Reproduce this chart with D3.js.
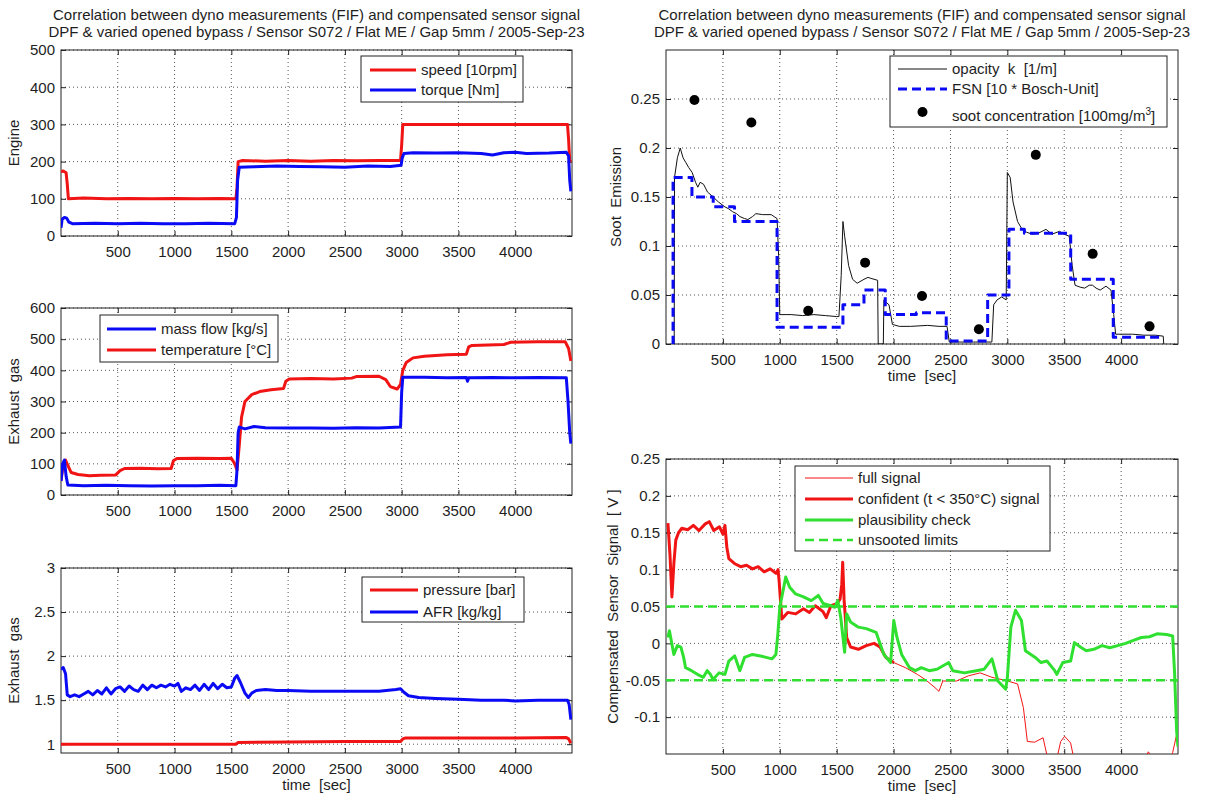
<!DOCTYPE html>
<html>
<head>
<meta charset="utf-8">
<style>
  body { margin: 0; background: #fff; }
  svg { font-family: "Liberation Sans", Arial, sans-serif; }
  text { fill: #1e1e1e; white-space: pre; }
</style>
</head>
<body>
<svg></svg>
<script src="https://d3js.org/d3.v7.min.js"></script>
<script>
// ---- data: [time sec, value] ----
const timeTicks = [500, 1000, 1500, 2000, 2500, 3000, 3500, 4000];

const speedData = [[0,172],[20,175],[45,170],[55,140],[65,100],[200,102],[400,100],[600,101],[800,100],[1000,101],[1200,100],[1400,101],[1540,100],[1550,130],[1560,200],[1600,203],[1800,201],[2000,203],[2200,201],[2400,203],[2600,202],[2800,203],[2990,203],[3000,245],[3010,300],[3200,300],[3400,300],[3600,300],[3800,300],[4000,300],[4200,300],[4460,300],[4470,260],[4480,200],[4490,205]];
const torqueData = [[0,22],[10,45],[30,50],[50,48],[70,37],[100,33],[300,34],[500,33],[700,34],[900,33],[1100,33],[1300,34],[1530,33],[1545,50],[1555,150],[1570,185],[1700,186],[1900,188],[2100,187],[2300,186],[2500,185],[2700,188],[2900,187],[2995,190],[3005,210],[3020,222],[3100,224],[3300,223],[3500,224],[3700,222],[3800,218],[3900,224],[4000,225],[4100,222],[4300,223],[4450,225],[4470,215],[4480,150],[4490,120]];

const massFlowData = [[0,45],[15,100],[30,112],[45,60],[60,32],[200,30],[400,31],[600,30],[800,29],[1000,30],[1200,30],[1400,31],[1540,30],[1550,80],[1560,200],[1570,218],[1620,212],[1700,220],[1800,216],[2000,215],[2200,215],[2400,214],[2600,216],[2800,215],[2990,218],[3000,330],[3010,378],[3200,378],[3400,376],[3570,377],[3580,365],[3590,376],[3800,377],[4000,376],[4200,377],[4450,376],[4465,300],[4480,200],[4490,165]];
const temperatureData = [[0,45],[20,100],[40,112],[60,95],[90,72],[150,66],[250,62],[350,63],[480,64],[520,78],[560,85],[700,86],[850,84],[970,85],[990,110],[1020,117],[1200,118],[1400,117],[1500,118],[1530,100],[1550,80],[1570,160],[1590,250],[1620,300],[1680,322],[1750,332],[1850,338],[1960,342],[1980,365],[2010,372],[2200,374],[2400,372],[2560,375],[2600,380],[2800,381],[2860,370],[2900,348],[2960,340],[2990,355],[3010,400],[3040,425],[3100,440],[3200,445],[3400,450],[3570,452],[3590,475],[3620,480],[3900,483],[3960,490],[4200,492],[4440,492],[4470,470],[4490,430]];

const pressureData = [[0,1.0],[500,1.0],[1000,1.0],[1540,1.0],[1560,1.02],[2000,1.025],[2500,1.03],[2990,1.03],[3010,1.06],[3030,1.07],[3500,1.07],[4000,1.07],[4450,1.075],[4470,1.06],[4490,1.01]];
const afrData = [[0,1.85],[20,1.87],[40,1.8],[55,1.56],[80,1.54],[120,1.56],[160,1.54],[200,1.57],[240,1.6],[280,1.56],[320,1.61],[360,1.57],[400,1.64],[440,1.57],[480,1.63],[520,1.65],[560,1.6],[600,1.66],[640,1.62],[680,1.6],[720,1.67],[760,1.62],[800,1.67],[840,1.64],[880,1.67],[920,1.65],[960,1.68],[1000,1.66],[1030,1.69],[1060,1.6],[1100,1.64],[1140,1.62],[1180,1.67],[1220,1.61],[1260,1.68],[1300,1.62],[1340,1.69],[1380,1.63],[1420,1.68],[1460,1.64],[1500,1.65],[1530,1.75],[1550,1.78],[1580,1.7],[1620,1.58],[1650,1.53],[1680,1.58],[1720,1.61],[1800,1.62],[1900,1.61],[2000,1.61],[2200,1.6],[2400,1.6],[2600,1.6],[2800,1.6],[2950,1.62],[2990,1.63],[3020,1.59],[3060,1.55],[3150,1.53],[3300,1.52],[3500,1.51],[3700,1.5],[3900,1.5],[4000,1.49],[4200,1.5],[4460,1.5],[4475,1.45],[4490,1.28]];

const opacityData = [[72,0],[75,0.17],[100,0.19],[125,0.2],[150,0.19],[175,0.185],[200,0.18],[230,0.175],[260,0.165],[280,0.16],[300,0.165],[330,0.163],[365,0.155],[415,0.15],[460,0.145],[517,0.14],[550,0.138],[585,0.135],[620,0.133],[650,0.13],[690,0.128],[720,0.127],[760,0.13],[790,0.133],[850,0.132],[925,0.132],[950,0.13],[976,0.128],[990,0.09],[1000,0.03],[1100,0.03],[1200,0.029],[1300,0.03],[1400,0.029],[1500,0.028],[1520,0.028],[1540,0.07],[1555,0.125],[1570,0.11],[1605,0.08],[1640,0.066],[1680,0.062],[1740,0.066],[1775,0.068],[1800,0.067],[1860,0.065],[1865,0.0],[1910,0.0],[1915,0.045],[1940,0.042],[1960,0.04],[1990,0.02],[2050,0.018],[2150,0.018],[2300,0.019],[2400,0.018],[2470,0.018],[2490,0.002],[2700,0.002],[2864,0.002],[2880,0.04],[2910,0.045],[2950,0.048],[2990,0.045],[3000,0.175],[3025,0.17],[3050,0.145],[3090,0.125],[3130,0.117],[3170,0.114],[3220,0.112],[3272,0.113],[3340,0.117],[3391,0.112],[3459,0.115],[3500,0.112],[3544,0.11],[3570,0.08],[3595,0.06],[3640,0.058],[3680,0.057],[3720,0.06],[3748,0.06],[3780,0.057],[3816,0.055],[3867,0.059],[3911,0.055],[3935,0.03],[3952,0.01],[4100,0.01],[4200,0.009],[4300,0.009],[4370,0.008],[4375,0.0]];
// FSN is a step signal: each value holds until the next time
const fsnData = [[55,0],[62,0.17],[228,0.15],[415,0.14],[602,0.125],[976,0.017],[1555,0.04],[1740,0.055],[1927,0.03],[2200,0.032],[2463,0.003],[2827,0.05],[3014,0.117],[3150,0.113],[3557,0.066],[3931,0.007],[4356,0.007]];
const sootTimes = [250, 750, 1250, 1750, 2250, 2750, 3250, 3750, 4250];
const sootValues = [0.249, 0.226, 0.034, 0.083, 0.049, 0.015, 0.193, 0.092, 0.018];

const confidentData = [[17,0.163],[35,0.12],[52,0.063],[70,0.11],[86,0.14],[110,0.15],[138,0.156],[190,0.154],[241,0.16],[290,0.153],[345,0.162],[380,0.165],[420,0.153],[470,0.158],[500,0.148],[518,0.16],[535,0.13],[552,0.115],[604,0.108],[656,0.104],[708,0.106],[760,0.101],[810,0.104],[863,0.097],[915,0.101],[967,0.095],[985,0.1],[994,0.085],[1018,0.033],[1070,0.042],[1140,0.04],[1208,0.047],[1260,0.042],[1312,0.051],[1380,0.043],[1408,0.035],[1450,0.051],[1502,0.054],[1530,0.06],[1545,0.08],[1553,0.11],[1565,0.06],[1588,0.008],[1622,-0.005],[1691,-0.008],[1760,-0.003],[1829,0.0],[1881,-0.005],[1933,-0.019],[2002,-0.026]];
const signalTailData = [[2105,-0.033],[2209,-0.042],[2278,-0.049],[2364,-0.06],[2399,-0.065],[2433,-0.051],[2554,-0.051],[2658,-0.044],[2761,-0.04],[2865,-0.046],[3003,-0.051],[3090,-0.055],[3141,-0.087],[3176,-0.133],[3240,-0.134],[3314,-0.128],[3349,-0.152],[3390,-0.17],[3430,-0.16],[3469,-0.133],[3504,-0.126],[3556,-0.135],[3590,-0.16],[3700,-0.2],[4100,-0.2],[4200,-0.16],[4239,-0.147],[4260,-0.152],[4300,-0.17],[4440,-0.16],[4453,-0.148],[4488,-0.124]];
const fullSignalData = confidentData.concat(signalTailData);
const plausibilityData = [[17,0.008],[30,0.017],[69,-0.015],[100,-0.003],[131,-0.005],[155,-0.019],[172,-0.033],[224,-0.037],[276,-0.042],[328,-0.046],[362,-0.037],[390,-0.042],[414,-0.049],[466,-0.04],[518,-0.042],[552,-0.024],[604,-0.017],[649,-0.037],[690,-0.019],[760,-0.015],[830,-0.017],[880,-0.019],[932,-0.021],[966,-0.015],[983,0.013],[1000,0.049],[1035,0.076],[1052,0.09],[1087,0.076],[1139,0.067],[1208,0.063],[1277,0.058],[1339,0.065],[1381,0.054],[1450,0.051],[1484,0.049],[1510,0.058],[1536,0.035],[1570,-0.012],[1588,0.04],[1622,0.029],[1691,0.022],[1760,0.02],[1846,0.015],[1915,-0.015],[1974,-0.026],[2002,0.031],[2030,0.008],[2071,-0.015],[2140,-0.033],[2192,-0.037],[2244,-0.033],[2313,-0.037],[2382,-0.035],[2485,-0.026],[2520,-0.037],[2623,-0.04],[2727,-0.037],[2796,-0.035],[2865,-0.021],[2917,-0.051],[2986,-0.062],[3000,-0.047],[3031,0.022],[3072,0.045],[3124,0.031],[3159,-0.01],[3245,-0.019],[3296,-0.026],[3348,-0.024],[3417,-0.037],[3435,-0.042],[3487,-0.026],[3556,-0.024],[3590,0.001],[3642,-0.005],[3694,-0.01],[3760,-0.008],[3832,-0.003],[3900,-0.006],[3970,-0.003],[4040,0.0],[4108,0.004],[4177,0.008],[4250,0.009],[4315,0.013],[4400,0.012],[4453,0.01],[4470,-0.04],[4488,-0.119],[4500,-0.14]];
const unsootedLimits = [0.05, -0.05];

const titleLines = ["Correlation between dyno measurements (FIF) and compensated sensor signal",
                    "DPF & varied opened bypass / Sensor S072 / Flat ME / Gap 5mm / 2005-Sep-23"];

const RED = "#f01414", BLUE = "#0a0af5", GREEN = "#30e030";

const svg = d3.select("svg").attr("width", 1207).attr("height", 799);

let clipId = 0;
function panel(box, yDomain, yTicks, yLabel, xLabel) {
    const g = svg.append("g").attr("transform", `translate(${box.x},${box.y})`);
    const x = d3.scaleLinear().domain([0, 4500]).range([0, box.w]);
    const y = d3.scaleLinear().domain(yDomain).range([box.h, 0]);

    // dotted grid
    g.append("g").selectAll("line").data(timeTicks).join("line")
        .attr("x1", d => x(d)).attr("x2", d => x(d)).attr("y1", 0).attr("y2", box.h);
    g.append("g").selectAll("line").data(yTicks).join("line")
        .attr("x1", 0).attr("x2", box.w).attr("y1", d => y(d)).attr("y2", d => y(d));
    g.selectAll("line").attr("stroke", "#555").attr("stroke-width", 1).attr("stroke-dasharray", "1,3");

    // inward ticks on all four sides
    g.append("g").attr("transform", `translate(0,${box.h})`)
        .call(d3.axisBottom(x).tickValues(timeTicks).tickSize(-5).tickPadding(10).tickFormat(d => String(d)));
    g.append("g").call(d3.axisLeft(y).tickValues(yTicks).tickSize(-5).tickPadding(6).tickFormat(d => String(d)));
    g.append("g").call(d3.axisTop(x).tickValues(timeTicks).tickSize(-5).tickFormat(""));
    g.append("g").attr("transform", `translate(${box.w},0)`)
        .call(d3.axisRight(y).tickValues(yTicks).tickSize(-5).tickFormat(""));
    g.selectAll(".domain").remove();
    g.selectAll(".tick line").attr("stroke", "#222");
    g.selectAll(".tick text").attr("font-size", 15).attr("fill", "#1e1e1e").attr("font-family", null);

    g.append("rect").attr("width", box.w).attr("height", box.h)
        .attr("fill", "none").attr("stroke", "#222").attr("stroke-width", 1);

    g.append("text").attr("transform", `translate(${box.labelX},${box.h / 2}) rotate(-90)`)
        .attr("text-anchor", "middle").attr("font-size", 15).text(yLabel);
    if (xLabel) {
        g.append("text").attr("x", box.w / 2).attr("y", box.h + 37)
            .attr("text-anchor", "middle").attr("font-size", 15).text(xLabel);
    }

    const id = "clip" + (clipId++);
    g.append("clipPath").attr("id", id).append("rect").attr("width", box.w).attr("height", box.h);
    const plot = g.append("g").attr("clip-path", `url(#${id})`);
    return { g, plot, x, y };
}

function drawLine(p, data, color, width, dash, curve) {
    const line = d3.line().x(d => p.x(d[0])).y(d => p.y(d[1])).curve(curve || d3.curveLinear);
    p.plot.append("path").datum(data).attr("d", line)
        .attr("fill", "none").attr("stroke", color).attr("stroke-width", width)
        .attr("stroke-linejoin", "round").attr("stroke-dasharray", dash || null);
}

function legend(box, items) {
    const g = svg.append("g");
    g.append("rect").attr("x", box.x).attr("y", box.y).attr("width", box.w).attr("height", box.h)
        .attr("fill", "#fff").attr("stroke", "#222").attr("stroke-width", 1);
    items.forEach((it, i) => {
        const cy = box.rows[i];
        if (it.marker) {
            g.append("circle").attr("cx", (box.lx0 + box.lx1) / 2).attr("cy", cy).attr("r", 5).attr("fill", "#000");
        } else {
            g.append("line").attr("x1", box.lx0).attr("x2", box.lx1).attr("y1", cy).attr("y2", cy)
                .attr("stroke", it.color).attr("stroke-width", it.width).attr("stroke-dasharray", it.dash || null);
        }
        const t = g.append("text").attr("x", box.tx).attr("y", it.marker ? cy + 4 : cy).attr("dy", "0.35em")
            .attr("font-size", 15);
        if (it.sup) {
            t.append("tspan").text(it.label);
            t.append("tspan").attr("font-size", 10).attr("dy", "-0.6em").text(it.sup);
            t.append("tspan").attr("dy", "0.45em").text("]");
        } else {
            t.text(it.label);
        }
    });
}

function title(cx) {
    titleLines.forEach((s, i) => {
        svg.append("text").attr("x", cx).attr("y", 20 + i * 17).attr("text-anchor", "middle")
            .attr("font-size", 15).text(s);
    });
}

// ---- left column ----
title(316.5);
const p1 = panel({ x: 61, y: 50, w: 511, h: 186, labelX: -42 }, [0, 500], [0, 100, 200, 300, 400, 500], "Engine");
drawLine(p1, speedData, RED, 3);
drawLine(p1, torqueData, BLUE, 3);
legend({ x: 361, y: 56, w: 162, h: 46, rows: [70, 90], lx0: 370, lx1: 416, tx: 421 }, [
    { label: "speed [10rpm]", color: RED, width: 3 },
    { label: "torque [Nm]", color: BLUE, width: 3 }]);

const p2 = panel({ x: 61, y: 308, w: 511, h: 187, labelX: -42 }, [0, 600], [0, 100, 200, 300, 400, 500, 600], "Exhaust  gas");
drawLine(p2, temperatureData, RED, 3);
drawLine(p2, massFlowData, BLUE, 3);
legend({ x: 100, y: 315, w: 178, h: 47, rows: [329, 350], lx0: 107, lx1: 156, tx: 161 }, [
    { label: "mass flow [kg/s]", color: BLUE, width: 3 },
    { label: "temperature [\u00B0C]", color: RED, width: 3 }]);

const p3 = panel({ x: 61, y: 568, w: 511, h: 185, labelX: -42 }, [0.9, 3], [1, 1.5, 2, 2.5, 3], "Exhaust  gas", "time  [sec]");
drawLine(p3, pressureData, RED, 3);
drawLine(p3, afrData, BLUE, 3);
legend({ x: 362, y: 577, w: 162, h: 45, rows: [590, 612], lx0: 370, lx1: 418, tx: 423 }, [
    { label: "pressure [bar]", color: RED, width: 3 },
    { label: "AFR [kg/kg]", color: BLUE, width: 3 }]);

// ---- right column ----
title(922);
const p4 = panel({ x: 666, y: 50, w: 512, h: 294, labelX: -45 }, [0, 0.3], [0, 0.05, 0.1, 0.15, 0.2, 0.25], "Soot  Emission", "time  [sec]");
drawLine(p4, opacityData, "#111", 1);
drawLine(p4, fsnData, BLUE, 3, "9,5", d3.curveStepAfter);
p4.plot.selectAll("circle.soot").data(sootTimes).join("circle").attr("class", "soot")
    .attr("cx", d => p4.x(d)).attr("cy", (d, i) => p4.y(sootValues[i])).attr("r", 5).attr("fill", "#000");
legend({ x: 890, y: 56, w: 277, h: 71, rows: [69, 89, 112], lx0: 898, lx1: 947, tx: 952 }, [
    { label: "opacity  k  [1/m]", color: "#111", width: 1 },
    { label: "FSN [10 * Bosch-Unit]", color: BLUE, width: 3, dash: "9,5" },
    { label: "soot concentration [100mg/m", sup: "3", marker: true }]);

const p5 = panel({ x: 666, y: 459, w: 512, h: 295, labelX: -48 }, [-0.15, 0.25], [-0.1, -0.05, 0, 0.05, 0.1, 0.15, 0.2, 0.25], "Compensated  Sensor  Signal  [ V ]", "time  [sec]");
drawLine(p5, fullSignalData, RED, 1);
drawLine(p5, confidentData, RED, 3);
drawLine(p5, plausibilityData, GREEN, 3);
unsootedLimits.forEach(v => drawLine(p5, [[0, v], [4500, v]], GREEN, 2.5, "9,5"));
legend({ x: 795, y: 466, w: 255, h: 85, rows: [478, 499, 520, 540], lx0: 805, lx1: 853, tx: 858 }, [
    { label: "full signal", color: RED, width: 1 },
    { label: "confident (t < 350\u00B0C) signal", color: RED, width: 3 },
    { label: "plausibility check", color: GREEN, width: 3 },
    { label: "unsooted limits", color: GREEN, width: 2.5, dash: "9,5" }]);
</script>
</body>
</html>
